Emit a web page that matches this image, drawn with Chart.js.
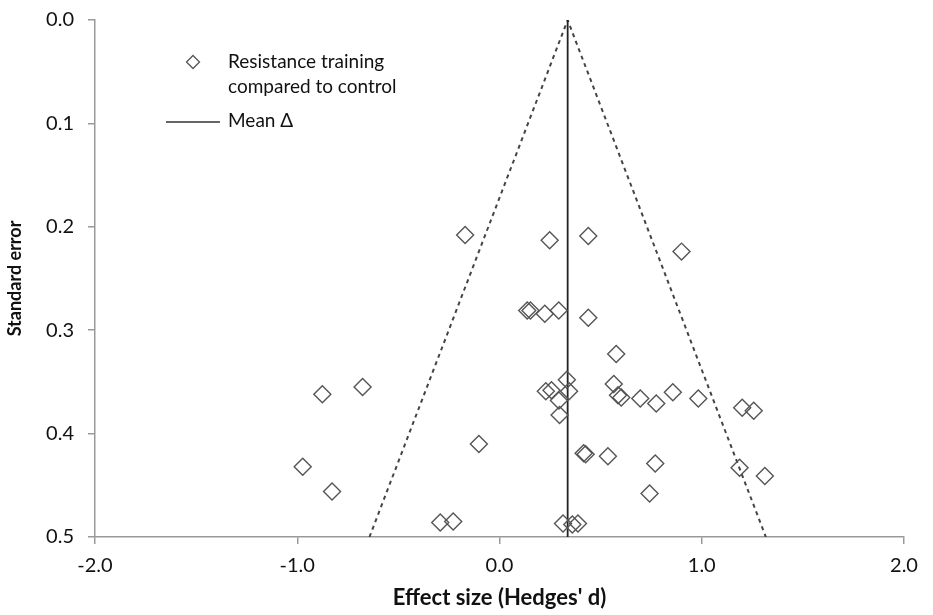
<!DOCTYPE html>
<html>
<head>
<meta charset="utf-8">
<script src="https://cdn.jsdelivr.net/npm/chart.js@4"></script>
<style>
  html, body { margin: 0; padding: 0; background: #fff; }
  #wrap { width: 933px; height: 615px; position: relative; }
</style>
</head>
<body>
<div id="wrap"><canvas id="c"></canvas></div>
<script>
// Study effect sizes (Hedges' d) and their standard errors
const effectSize = [
  -0.170, 0.248, 0.439, 0.900,
  0.137, 0.153, 0.224, 0.293, 0.439, 0.577,
  -0.876, -0.677, 0.229, 0.257, 0.333, 0.344, 0.294, 0.297,
  0.565, 0.586, 0.602, 0.696, 0.775, 0.857, 0.983, 1.200, 1.257,
  -0.973, -0.828, -0.102, 0.416, 0.426, 0.536, 0.770, 0.742, 1.187, 1.312,
  -0.293, -0.229, 0.314, 0.360, 0.388
];
const standardError = [
  0.208, 0.213, 0.209, 0.224,
  0.281, 0.281, 0.284, 0.281, 0.288, 0.323,
  0.362, 0.355, 0.359, 0.358, 0.348, 0.359, 0.368, 0.382,
  0.352, 0.363, 0.365, 0.366, 0.371, 0.360, 0.366, 0.375, 0.378,
  0.432, 0.456, 0.410, 0.419, 0.420, 0.422, 0.429, 0.458, 0.433, 0.441,
  0.486, 0.485, 0.487, 0.488, 0.487
];

const meanDelta = 0.337;
const funnelX = [-0.643, 0.337, 1.317];
const funnelSE = [0.5, 0.0, 0.5];
const xTicks = [-2.0, -1.0, 0.0, 1.0, 2.0];
const yTicks = [0.0, 0.1, 0.2, 0.3, 0.4, 0.5];

const FONT = "Lato, 'Open Sans', sans-serif";
const TEXT = '#111';

// legend drawn inside the plot, top-left
const innerLegend = {
  id: 'innerLegend',
  afterDraw(chart) {
    const ctx = chart.ctx;
    ctx.save();
    // diamond marker
    ctx.strokeStyle = '#555';
    ctx.lineWidth = 1.3;
    ctx.beginPath();
    ctx.moveTo(193, 55.5); ctx.lineTo(199.5, 62); ctx.lineTo(193, 68.5); ctx.lineTo(186.5, 62);
    ctx.closePath();
    ctx.stroke();
    // mean line
    ctx.strokeStyle = '#333';
    ctx.lineWidth = 1.5;
    ctx.beginPath();
    ctx.moveTo(166, 122); ctx.lineTo(220, 122);
    ctx.stroke();
    ctx.fillStyle = TEXT;
    ctx.font = '19px ' + FONT;
    ctx.textBaseline = 'middle';
    ctx.fillText('Resistance training', 228, 62);
    ctx.fillText('compared to control', 228, 87);
    ctx.fillText('Mean Δ', 228, 121);
    ctx.restore();
  }
};

new Chart(document.getElementById('c'), {
  type: 'scatter',
  data: {
    datasets: [
      {
        label: 'Resistance training compared to control',
        data: effectSize.map((x, i) => ({ x: x, y: standardError[i] })),
        pointStyle: 'rectRot',
        pointRadius: 8.5,
        pointBorderColor: '#555',
        pointBackgroundColor: 'rgba(255,255,255,0)',
        pointBorderWidth: 1.4,
        order: 1
      },
      {
        label: 'Mean Δ',
        type: 'line',
        data: [{ x: meanDelta, y: 0 }, { x: meanDelta, y: 0.5 }],
        borderColor: '#222',
        borderWidth: 1.8,
        pointRadius: 0,
        order: 2
      },
      {
        label: 'Funnel',
        type: 'line',
        data: funnelX.map((x, i) => ({ x: x, y: funnelSE[i] })),
        borderColor: '#444',
        borderWidth: 2,
        borderDash: [4, 4],
        pointRadius: 0,
        tension: 0,
        order: 3
      }
    ]
  },
  options: {
    responsive: true,
    maintainAspectRatio: false,
    animation: false,
    layout: { padding: { top: 20, right: 29, left: 0, bottom: 0 } },
    plugins: {
      legend: { display: false },
      tooltip: { enabled: false }
    },
    scales: {
      x: {
        type: 'linear',
        min: -2,
        max: 2,
        afterBuildTicks: s => { s.ticks = xTicks.map(v => ({ value: v })); },
        afterFit: s => { s.height = 78; },
        border: { color: '#999', width: 1.5 },
        grid: { drawOnChartArea: false, drawTicks: true, tickLength: 7, color: '#999', lineWidth: 1.5 },
        ticks: {
          color: TEXT,
          padding: 10,
          font: { family: FONT, size: 20 },
          callback: v => v.toFixed(1)
        },
        title: {
          display: true,
          text: "Effect size (Hedges' d)",
          color: TEXT,
          font: { family: FONT, size: 22, weight: 'bold' },
          padding: { top: 2 }
        }
      },
      y: {
        type: 'linear',
        reverse: true,
        min: 0,
        max: 0.5,
        afterBuildTicks: s => { s.ticks = yTicks.map(v => ({ value: v })); },
        afterFit: s => { s.width = 95; s.paddingTop = 0; s.paddingBottom = 0; },
        border: { color: '#999', width: 1.5 },
        grid: { drawOnChartArea: false, drawTicks: true, tickLength: 7, color: '#999', lineWidth: 1.5 },
        ticks: {
          color: TEXT,
          padding: 14,
          font: { family: FONT, size: 20 },
          callback: v => v.toFixed(1)
        },
        title: {
          display: true,
          text: 'Standard error',
          color: TEXT,
          font: { family: FONT, size: 18, weight: 'bold' },
          padding: { bottom: 2 }
        }
      }
    }
  },
  plugins: [innerLegend]
});
</script>
</body>
</html>
